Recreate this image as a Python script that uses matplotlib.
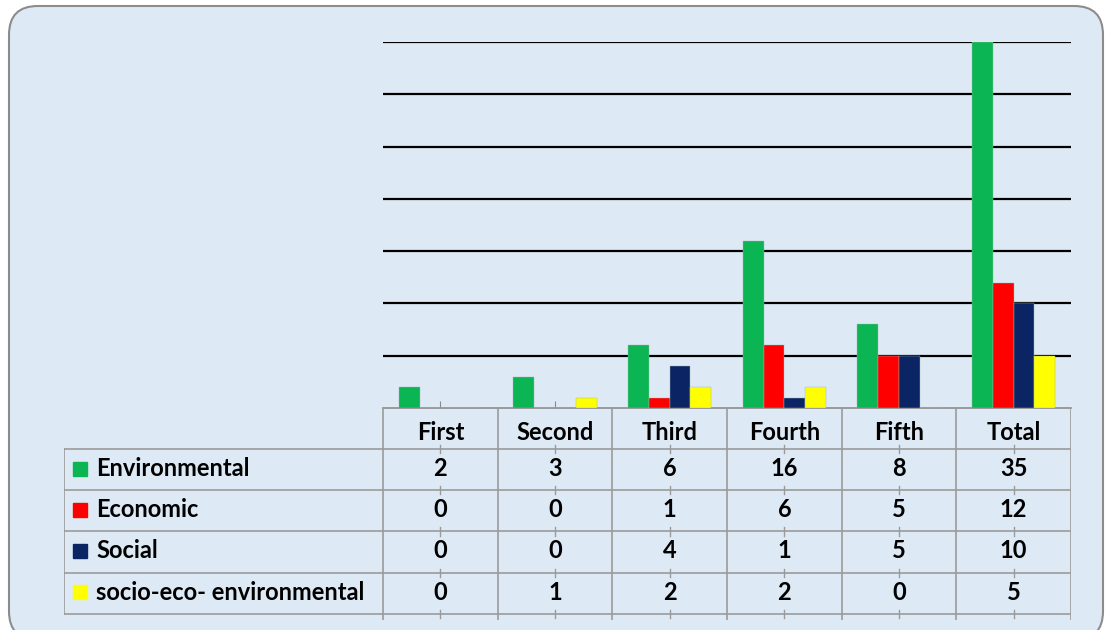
import numpy as np
import matplotlib
matplotlib.use("Agg")
import matplotlib.pyplot as plt
from matplotlib.patches import FancyBboxPatch

# data
categories = ["First", "Second", "Third", "Fourth", "Fifth", "Total"]
series = ["Environmental", "Economic", "Social", "socio-eco- environmental"]
environmental = [2, 3, 6, 16, 8, 35]
economic = [0, 0, 1, 6, 5, 12]
social = [0, 0, 4, 1, 5, 10]
socio_eco_env = [0, 1, 2, 2, 0, 5]
values = [environmental, economic, social, socio_eco_env]
colors = ["#0CB553", "#FF0000", "#0A2464", "#FFFF00"]

W, H = 1107, 630
bg = "#DDEAF5"
fs = 17
plt.rcParams["font.family"] = ["Lato", "DejaVu Sans"]

fig = plt.figure(figsize=(W / 100, H / 100), dpi=100)
fig.patch.set_facecolor("white")

# rounded chart area (runs off the bottom edge)
box = FancyBboxPatch((9 / W, -10 / H), 1094 / W, 634 / H,
                     boxstyle="round,pad=0,rounding_size=0.026",
                     transform=fig.transFigure, facecolor=bg,
                     edgecolor="#8C8C8C", linewidth=1.5,
                     mutation_aspect=W / H, zorder=-10)
fig.patches.append(box)

# bar axes
ax = fig.add_axes([383 / W, (H - 408) / H, (1071 - 383) / W, (408 - 42) / H])
ax.set_facecolor("none")
x = np.arange(len(categories))
bw = 0.181
for i, (vals, c) in enumerate(zip(values, colors)):
    ax.bar(x + (i - 1.5) * bw, vals, width=bw, color=c, zorder=3,
           edgecolor="#9FB7A8", linewidth=0.3)
ax.set_xlim(-0.5, len(categories) - 0.5)
ax.set_ylim(0, 35)
ax.set_yticks(range(5, 36, 5))
ax.yaxis.grid(True, color="black", linewidth=1.6, zorder=1)
ax.tick_params(axis="y", left=False, labelleft=False)
ax.set_xticks(x)
ax.tick_params(axis="x", direction="in", length=5, color="#888888",
               labelbottom=False)
for s in ["top", "right", "left"]:
    ax.spines[s].set_visible(False)
ax.spines["bottom"].set_color("#8C8C8C")
ax.spines["bottom"].set_linewidth(1.2)

# data table below
nrows = len(series) + 1
tax = fig.add_axes([64 / W, (H - 620) / H, (1071 - 64) / W, (620 - 408) / H])
tax.set_facecolor("none")
label_w = (383 - 64) / 114.67
tax.set_xlim(-0.5 - label_w, len(categories) - 0.5)
tax.set_ylim(nrows + 0.15, 0)
tax.axis("off")
lc = "#9A9A9A"
for r in range(1, nrows + 1):
    tax.plot([-0.5 - label_w, len(categories) - 0.5], [r, r], color=lc, lw=1.2)
tax.plot([-0.5 - label_w] * 2, [1, nrows], color=lc, lw=1.2)
for k in range(len(categories) + 1):
    tax.plot([k - 0.5] * 2, [0, nrows + 0.15], color=lc, lw=1.2)
for k in range(len(categories)):
    for r in range(1, nrows + 1):
        tax.plot([k, k], [r - 0.1, r + 0.1], color=lc, lw=1.0)

for k, cat in enumerate(categories):
    tax.text(k, 0.6, cat, ha="center", va="center", fontsize=fs,
             fontweight="bold")
for r, (name, vals, c) in enumerate(zip(series, values, colors), start=1):
    tax.plot(-0.5 - label_w + 0.14, r + 0.47, marker="s", markersize=9.5,
             color=c, linestyle="none")
    tax.text(-0.5 - label_w + 0.28, r + 0.47, name, ha="left", va="center",
             fontsize=fs, fontweight="bold")
    for k, v in enumerate(vals):
        tax.text(k, r + 0.47, str(v), ha="center", va="center", fontsize=fs,
                 fontweight="bold")

fig.savefig("out.png", dpi=100, facecolor=fig.get_facecolor())
